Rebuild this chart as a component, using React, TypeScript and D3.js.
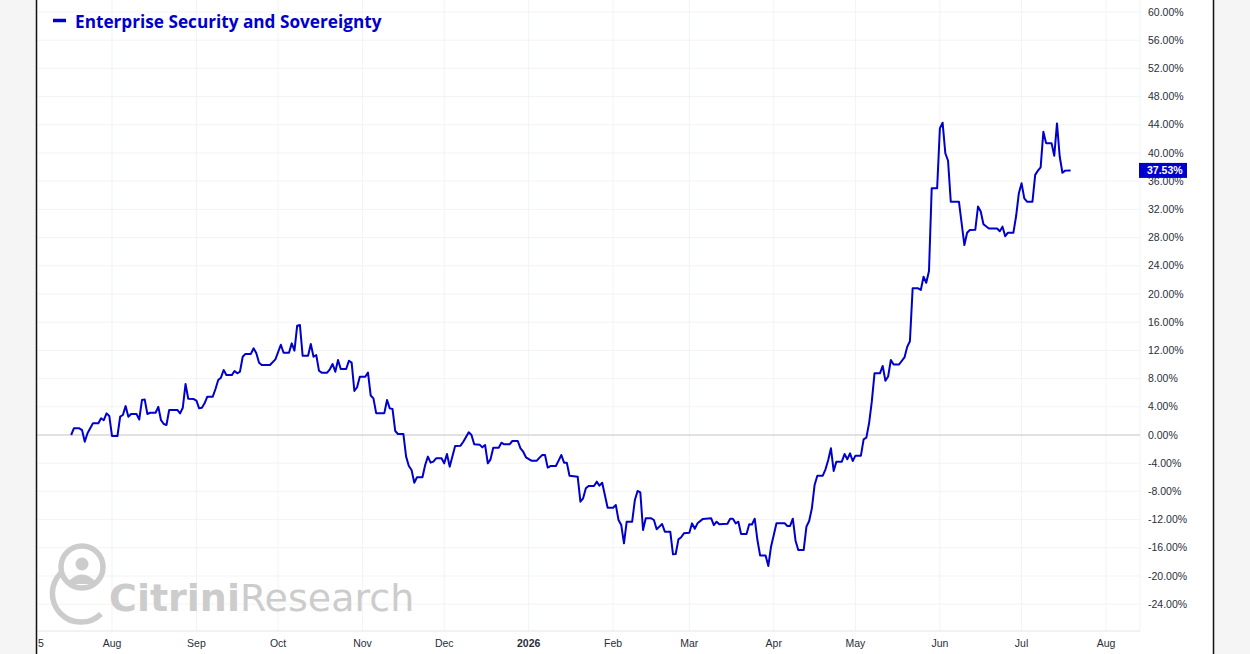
import React from 'react';
import * as d3 from 'd3';

const SERIES_NAME = 'Enterprise Security and Sovereignty';
const LAST_LABEL = '37.53%';

// daily closes, % change from start
const points: [string, number][] = [
  ['2025-07-17', 0], ['2025-07-18', 0.95], ['2025-07-20', 0.95], ['2025-07-21', 0.7], ['2025-07-22', -0.95],
  ['2025-07-23', 0.24], ['2025-07-25', 1.66], ['2025-07-27', 1.66], ['2025-07-28', 2.37], ['2025-07-29', 2.1],
  ['2025-07-30', 3.07], ['2025-07-31', 2.7], ['2025-08-01', -0.14], ['2025-08-03', -0.14], ['2025-08-04', 2.6],
  ['2025-08-05', 2.84], ['2025-08-06', 4.1], ['2025-08-07', 2.6], ['2025-08-08', 2.98], ['2025-08-10', 2.98],
  ['2025-08-11', 2.2], ['2025-08-12', 4.96], ['2025-08-13', 5.05], ['2025-08-14', 2.98], ['2025-08-15', 3.16],
  ['2025-08-17', 3.16], ['2025-08-18', 4.0], ['2025-08-19', 2.1], ['2025-08-20', 1.56], ['2025-08-21', 1.42],
  ['2025-08-22', 3.55], ['2025-08-25', 3.55], ['2025-08-26', 3.07], ['2025-08-27', 3.87], ['2025-08-28', 7.23],
  ['2025-08-29', 5.15], ['2025-08-31', 5.1], ['2025-09-01', 4.87], ['2025-09-02', 3.78], ['2025-09-03', 3.87],
  ['2025-09-04', 4.49], ['2025-09-05', 5.44], ['2025-09-07', 5.44], ['2025-09-08', 6.52], ['2025-09-09', 7.8],
  ['2025-09-10', 8.13], ['2025-09-11', 9.22], ['2025-09-12', 8.5], ['2025-09-14', 8.5], ['2025-09-15', 9.08],
  ['2025-09-16', 8.75], ['2025-09-17', 8.98], ['2025-09-18', 11.1], ['2025-09-19', 11.5], ['2025-09-21', 11.5],
  ['2025-09-22', 12.3], ['2025-09-23', 11.6], ['2025-09-24', 10.26], ['2025-09-25', 9.93], ['2025-09-28', 9.93],
  ['2025-09-30', 10.73], ['2025-10-02', 12.8], ['2025-10-03', 11.67], ['2025-10-05', 11.67], ['2025-10-06', 13.0],
  ['2025-10-07', 11.96], ['2025-10-08', 15.5], ['2025-10-09', 15.6], ['2025-10-10', 11.25], ['2025-10-12', 11.25],
  ['2025-10-13', 12.9], ['2025-10-14', 11.1], ['2025-10-15', 11.35], ['2025-10-16', 9.12], ['2025-10-17', 8.84],
  ['2025-10-19', 8.84], ['2025-10-20', 9.32], ['2025-10-21', 10.07], ['2025-10-22', 8.98], ['2025-10-23', 10.64],
  ['2025-10-24', 9.36], ['2025-10-26', 9.36], ['2025-10-27', 10.54], ['2025-10-28', 10.26], ['2025-10-29', 6.24],
  ['2025-10-30', 6.77], ['2025-10-31', 8.27], ['2025-11-02', 8.27], ['2025-11-03', 8.84], ['2025-11-04', 5.6],
  ['2025-11-05', 5.2], ['2025-11-06', 3.1], ['2025-11-09', 3.1], ['2025-11-10', 4.96], ['2025-11-11', 3.78],
  ['2025-11-12', 3.69], ['2025-11-13', 0.57], ['2025-11-14', 0.14], ['2025-11-16', 0.14], ['2025-11-17', -3.07],
  ['2025-11-18', -4.4], ['2025-11-19', -4.96], ['2025-11-20', -6.77], ['2025-11-21', -6.0], ['2025-11-23', -6.0],
  ['2025-11-24', -4.26], ['2025-11-25', -3.07], ['2025-11-26', -3.92], ['2025-11-27', -3.78], ['2025-11-28', -3.31],
  ['2025-11-30', -3.31], ['2025-12-01', -4.02], ['2025-12-02', -2.7], ['2025-12-03', -4.49], ['2025-12-05', -1.56],
  ['2025-12-07', -1.51], ['2025-12-08', -0.95], ['2025-12-10', 0.38], ['2025-12-11', 0], ['2025-12-12', -1.32],
  ['2025-12-14', -1.37], ['2025-12-15', -1.75], ['2025-12-16', -1.42], ['2025-12-17', -4.02], ['2025-12-18', -3.45],
  ['2025-12-19', -1.8], ['2025-12-21', -1.8], ['2025-12-22', -1.09], ['2025-12-23', -1.32], ['2025-12-25', -1.32],
  ['2025-12-26', -0.85], ['2025-12-28', -0.85], ['2025-12-29', -1.89], ['2025-12-30', -2.37], ['2025-12-31', -3.16],
  ['2026-01-02', -3.64], ['2026-01-04', -3.64], ['2026-01-05', -3.21], ['2026-01-06', -2.84], ['2026-01-07', -2.84],
  ['2026-01-08', -4.63], ['2026-01-09', -4.4], ['2026-01-11', -4.4], ['2026-01-12', -3.64], ['2026-01-13', -2.84],
  ['2026-01-14', -3.92], ['2026-01-15', -3.92], ['2026-01-16', -5.77], ['2026-01-19', -5.91], ['2026-01-20', -9.46],
  ['2026-01-21', -8.98], ['2026-01-22', -7.56], ['2026-01-23', -7.23], ['2026-01-25', -7.23], ['2026-01-26', -6.62],
  ['2026-01-27', -7.19], ['2026-01-28', -6.77], ['2026-01-30', -10.31], ['2026-02-01', -10.31], ['2026-02-02', -9.93],
  ['2026-02-03', -12.06], ['2026-02-04', -12.77], ['2026-02-05', -15.36], ['2026-02-06', -12.3], ['2026-02-08', -12.3],
  ['2026-02-09', -9.22], ['2026-02-10', -7.94], ['2026-02-11', -8.13], ['2026-02-12', -13.48], ['2026-02-13', -11.82],
  ['2026-02-15', -11.82], ['2026-02-16', -12.06], ['2026-02-17', -13.38], ['2026-02-18', -13.0], ['2026-02-19', -12.62],
  ['2026-02-20', -13.71], ['2026-02-22', -13.71], ['2026-02-23', -16.92], ['2026-02-24', -16.88], ['2026-02-25', -14.8],
  ['2026-02-26', -14.5], ['2026-02-27', -13.95], ['2026-03-01', -13.86], ['2026-03-02', -12.53], ['2026-03-03', -13.3],
  ['2026-03-04', -12.53], ['2026-03-06', -11.9], ['2026-03-09', -11.8], ['2026-03-10', -12.77], ['2026-03-11', -12.3],
  ['2026-03-12', -12.67], ['2026-03-15', -12.6], ['2026-03-16', -11.87], ['2026-03-17', -11.87], ['2026-03-18', -12.53],
  ['2026-03-19', -12.3], ['2026-03-20', -14.04], ['2026-03-22', -14.04], ['2026-03-23', -12.67], ['2026-03-24', -12.7],
  ['2026-03-25', -11.87], ['2026-03-26', -14.9], ['2026-03-27', -17.1], ['2026-03-29', -17.1], ['2026-03-30', -18.58],
  ['2026-03-31', -15.84], ['2026-04-02', -12.53], ['2026-04-05', -12.53], ['2026-04-06', -12.9], ['2026-04-07', -12.9],
  ['2026-04-08', -11.87], ['2026-04-09', -14.99], ['2026-04-10', -16.31], ['2026-04-12', -16.31], ['2026-04-13', -13.0],
  ['2026-04-14', -12.2], ['2026-04-15', -10.4], ['2026-04-16', -7.09], ['2026-04-17', -5.77], ['2026-04-19', -5.77],
  ['2026-04-20', -4.87], ['2026-04-21', -3.55], ['2026-04-22', -1.89], ['2026-04-23', -5.1], ['2026-04-24', -3.78],
  ['2026-04-26', -3.78], ['2026-04-27', -2.7], ['2026-04-28', -3.45], ['2026-04-29', -2.6], ['2026-04-30', -3.69],
  ['2026-05-01', -2.93], ['2026-05-03', -2.93], ['2026-05-04', -0.61], ['2026-05-05', -0.38], ['2026-05-06', 1.66],
  ['2026-05-07', 4.73], ['2026-05-08', 8.75], ['2026-05-10', 8.75], ['2026-05-11', 9.8], ['2026-05-12', 7.7],
  ['2026-05-13', 8.3], ['2026-05-14', 10.64], ['2026-05-15', 10.0], ['2026-05-17', 10.0], ['2026-05-19', 11.0],
  ['2026-05-20', 12.5], ['2026-05-21', 13.3], ['2026-05-22', 20.8], ['2026-05-24', 20.8], ['2026-05-25', 20.57],
  ['2026-05-26', 22.45], ['2026-05-27', 21.6], ['2026-05-28', 23.26], ['2026-05-29', 35.0], ['2026-05-31', 35.0],
  ['2026-06-01', 43.5], ['2026-06-02', 44.3], ['2026-06-03', 39.96], ['2026-06-04', 38.9], ['2026-06-05', 33.1],
  ['2026-06-08', 33.1], ['2026-06-09', 30.0], ['2026-06-10', 26.95], ['2026-06-11', 28.7], ['2026-06-12', 29.08],
  ['2026-06-14', 29.1], ['2026-06-15', 32.4], ['2026-06-16', 31.7], ['2026-06-17', 29.9], ['2026-06-19', 29.3],
  ['2026-06-22', 29.3], ['2026-06-23', 28.9], ['2026-06-24', 29.55], ['2026-06-25', 28.2], ['2026-06-26', 28.7],
  ['2026-06-28', 28.7], ['2026-06-29', 31.06], ['2026-06-30', 34.3], ['2026-07-01', 35.7], ['2026-07-02', 33.57],
  ['2026-07-03', 33.1], ['2026-07-05', 33.1], ['2026-07-06', 36.9], ['2026-07-07', 37.5], ['2026-07-08', 37.97],
  ['2026-07-09', 43.0], ['2026-07-10', 41.4], ['2026-07-12', 41.4], ['2026-07-13', 39.6], ['2026-07-14', 44.2],
  ['2026-07-15', 39.5], ['2026-07-16', 37.2], ['2026-07-17', 37.5], ['2026-07-19', 37.53],
];

const yTicks = [60, 56, 52, 48, 44, 40, 36, 32, 28, 24, 20, 16, 12, 8, 4, 0, -4, -8, -12, -16, -20, -24];

const monthTicks = [
  '2025-08-01', '2025-09-01', '2025-10-01', '2025-11-01', '2025-12-01', '2026-01-01',
  '2026-02-01', '2026-03-01', '2026-04-01', '2026-05-01', '2026-06-01', '2026-07-01', '2026-08-01',
];

const W = 1250;
const H = 654;
const LINE_COLOR = '#0000cc';
const GRID = '#f2f3f7';
const TEXT = '#2a2e39';
const TICK_FONT = '"Liberation Sans", Arial, sans-serif';

const parse = d3.utcParse('%Y-%m-%d');

const App: React.FC = () => {
  const plot = { left: 37, right: 1140, top: 0, bottom: 631 };

  const x = d3.scaleUtc()
    .domain([parse('2025-08-01')!, parse('2026-08-01')!])
    .range([112, 1106]);

  const y = d3.scaleLinear()
    .domain([-24, 60])
    .range([604.2, 12]);

  const line = d3.line<[string, number]>()
    .x(d => x(parse(d[0])!))
    .y(d => y(d[1]));

  const fmtMonth = (s: string) => {
    const d = parse(s)!;
    return d.getUTCMonth() === 0 ? d3.utcFormat('%Y')(d) : d3.utcFormat('%b')(d);
  };

  const last = points[points.length - 1];
  const lastY = y(last[1]);

  return (
    <div style={{ position: 'fixed', left: 0, top: 0 }}>
      <svg width={W} height={H} style={{ display: 'block' }}>
        <rect x={0} y={0} width={W} height={H} fill="#f5f5f5" />
        <rect x={37} y={0} width={1176} height={H} fill="#ffffff" />

        {/* grid */}
        <g>
          {yTicks.map(t => (
            <line key={`h${t}`} x1={plot.left} x2={plot.right} y1={y(t)} y2={y(t)} stroke={GRID} strokeWidth={1} />
          ))}
          {monthTicks.map(m => (
            <line key={`v${m}`} x1={x(parse(m)!)} x2={x(parse(m)!)} y1={plot.top} y2={plot.bottom} stroke={GRID} strokeWidth={1} />
          ))}
          <line x1={plot.right} x2={plot.right} y1={plot.top} y2={plot.bottom} stroke={GRID} />
          <line x1={plot.left} x2={plot.right} y1={plot.bottom} y2={plot.bottom} stroke="#e6e6e6" />
          <line x1={plot.left} x2={plot.right} y1={y(0)} y2={y(0)} stroke="#c9c9c9" strokeWidth={1} />
        </g>

        {/* watermark */}
        <g fill="none" stroke="#cccccc" strokeWidth={5.5}>
          <circle cx={82} cy={567} r={21} />
          <path d="M 61 573 A 24 24 0 0 0 101 614" strokeLinecap="butt" />
        </g>
        <g fill="#cccccc">
          <circle cx={82} cy={564} r={6.5} />
          <path d="M 66 584 Q 82 565 98 584 Z" />
        </g>
        <text x={109} y={611} fontFamily='"DejaVu Sans", sans-serif' fontSize={38} fill="#cccccc">
          <tspan fontWeight="bold">Citrini</tspan>
          <tspan>Research</tspan>
        </text>

        {/* series */}
        <path d={line(points) ?? ''} fill="none" stroke={LINE_COLOR} strokeWidth={2} strokeLinejoin="round" />

        {/* y axis labels */}
        <g fontFamily={TICK_FONT} fontSize={10.5} fill={TEXT}>
          {yTicks.map(t => (
            <text key={`yl${t}`} x={1148} y={y(t)} dy="0.35em">{`${t.toFixed(2)}%`}</text>
          ))}
        </g>

        {/* last value tag */}
        <rect x={1139} y={lastY - 7.5} width={48} height={15} fill={LINE_COLOR} />
        <text x={1147} y={lastY} dy="0.35em" fontFamily={TICK_FONT} fontSize={10.5} fontWeight="bold" fill="#ffffff">
          {LAST_LABEL}
        </text>

        {/* x axis labels */}
        <g fontFamily={TICK_FONT} fontSize={10.5} fill={TEXT} textAnchor="middle">
          <text x={41} y={647}>5</text>
          {monthTicks.map(m => {
            const label = fmtMonth(m);
            return (
              <text key={`xl${m}`} x={x(parse(m)!)} y={647} fontWeight={label === '2026' ? 'bold' : 'normal'}>
                {label}
              </text>
            );
          })}
        </g>

        {/* legend */}
        <line x1={53} x2={66} y1={20.5} y2={20.5} stroke={LINE_COLOR} strokeWidth={3.5} />
        <text x={75} y={28} fontFamily='"Open Sans", sans-serif' fontWeight="bold" fontSize={17.2} fill={LINE_COLOR}>
          {SERIES_NAME}
        </text>

        {/* frame */}
        <line x1={36.5} x2={36.5} y1={0} y2={H} stroke="#111" strokeWidth={1.5} />
        <line x1={1213.5} x2={1213.5} y1={0} y2={H} stroke="#111" strokeWidth={1.5} />
      </svg>
    </div>
  );
};

export default App;
